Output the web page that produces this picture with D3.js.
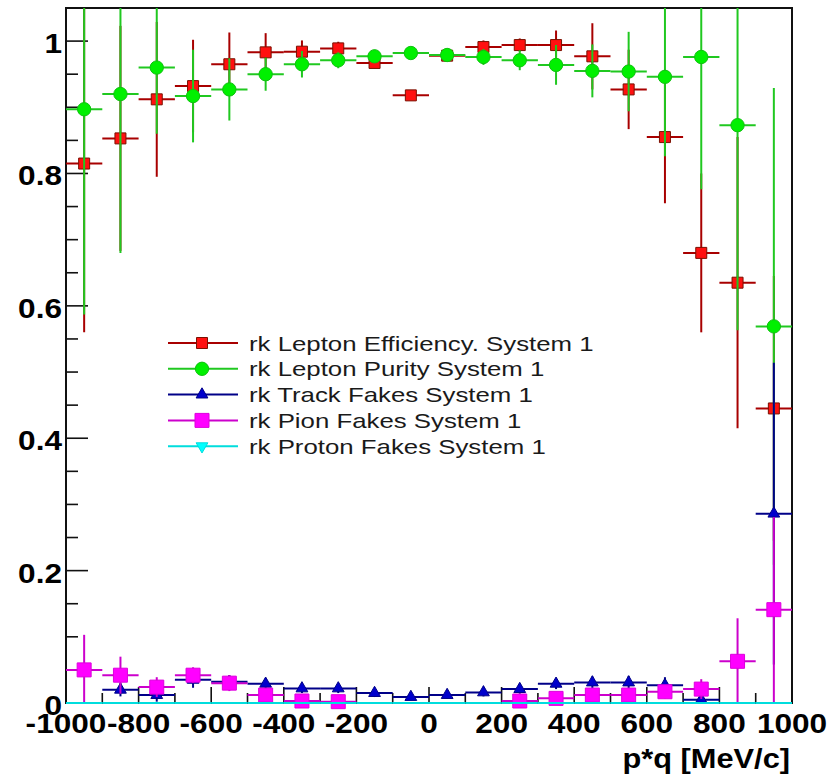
<!DOCTYPE html>
<html>
<head>
<meta charset="utf-8">
<script src="https://cdn.jsdelivr.net/npm/d3@7/dist/d3.min.js"></script>
<style>
  body { margin: 0; background: #ffffff; }
  svg { display: block; }
  text { font-family: "Liberation Sans", Arial, Helvetica, sans-serif; }
</style>
</head>
<body>
<script>
// bins of p*q, 100 MeV/c wide
var binCenters = [-950, -850, -750, -650, -550, -450, -350, -250, -150, -50,
                  50, 150, 250, 350, 450, 550, 650, 750, 850, 950];
var binHalf = 50;

var effVal = [0.815, 0.853, 0.912, 0.932, 0.965, 0.983, 0.984, 0.989, 0.967, 0.918,
              0.978, 0.991, 0.994, 0.994, 0.977, 0.927, 0.855, 0.680, 0.635, 0.445];
var effErr = [0.255, 0.170, 0.117, 0.070, 0.048, 0.029, 0.017, 0.010, 0.008, 0.006,
              0.008, 0.010, 0.010, 0.022, 0.050, 0.060, 0.100, 0.120, 0.220, 0.200];

var purVal = [0.897, 0.920, 0.960, 0.917, 0.927, 0.950, 0.965, 0.971, 0.977, 0.982,
              0.979, 0.976, 0.971, 0.964, 0.955, 0.954, 0.946, 0.976, 0.873, 0.569];
var purErr = [0.310, 0.240, 0.100, 0.070, 0.047, 0.025, 0.020, 0.012, 0.010, 0.008,
              0.010, 0.012, 0.015, 0.030, 0.040, 0.060, 0.120, 0.200, 0.310, 0.360];

var trkVal = [null, 0.020, 0.012, 0.035, 0.032, 0.029, 0.022, 0.022, 0.015, 0.009,
              0.012, 0.016, 0.021, 0.029, 0.031, 0.031, 0.027, 0.005, null, 0.286];
var trkErr = [null, 0.010, 0.010, 0.012, 0.010, 0.008, 0.007, 0.007, 0.006, 0.005,
              0.005, 0.006, 0.007, 0.008, 0.009, 0.010, 0.012, 0.010, null, 0.228];

var pionVal = [0.050, 0.042, 0.024, 0.042, 0.030, 0.012, 0.003, 0.002, null, null,
               null, null, 0.003, 0.007, 0.012, 0.012, 0.017, 0.021, 0.063, 0.141];
var pionErr = [0.053, 0.028, 0.015, 0.012, 0.012, 0.008, 0.006, 0.006, null, null,
               null, null, 0.006, 0.006, 0.008, 0.008, 0.010, 0.015, 0.065, 0.140];

var protVal = [0, 0, 0, 0, 0, 0, 0, 0, 0, 0, 0, 0, 0, 0, 0, 0, 0, 0, 0, 0];
var protErr = [0, 0, 0, 0, 0, 0, 0, 0, 0, 0, 0, 0, 0, 0, 0, 0, 0, 0, 0, 0];

var legendLabels = ["rk Lepton Efficiency. System 1", "rk Lepton Purity System 1",
                    "rk Track Fakes System 1", "rk Pion Fakes System 1", "rk Proton Fakes System 1"];

var xTickVals = [-1000, -800, -600, -400, -200, 0, 200, 400, 600, 800, 1000];
var yTickVals = [0, 0.2, 0.4, 0.6, 0.8, 1];
var xTitle = "p*q [MeV/c]";

// Viz space
var W = 840, H = 776;
var margin = {top: 8, right: 48, bottom: 73, left: 66},
    width = W - margin.left - margin.right,
    height = H - margin.top - margin.bottom;

var svg = d3.select("body").append("svg")
    .attr("width", W)
    .attr("height", H);

var x = d3.scaleLinear().domain([-1000, 1000]).range([margin.left, margin.left + width]);
var y = d3.scaleLinear().domain([0, 1.05]).range([margin.top + height, margin.top]);

svg.append("defs").append("clipPath").attr("id", "plotclip")
  .append("rect")
    .attr("x", margin.left).attr("y", margin.top)
    .attr("width", width).attr("height", height + 2);

// stretched text (reference glyphs are wider than Helvetica)
function sText(x0, y0, str, opt) {
  var g = svg.append("g")
      .attr("transform", "translate(" + x0 + "," + y0 + ") scale(" + opt.sx + ",1)");
  g.append("text")
    .attr("text-anchor", opt.anchor || "start")
    .attr("font-size", opt.size)
    .attr("font-weight", opt.weight || "normal")
    .attr("fill", opt.fill || "#000")
    .text(str);
  return g;
}

// frame
svg.append("rect")
  .attr("x", margin.left).attr("y", margin.top)
  .attr("width", width).attr("height", height)
  .attr("fill", "none").attr("stroke", "#111").attr("stroke-width", 2);

// y ticks: major every 0.2, minor every 0.05
var yMinor = d3.range(0, 1.0501, 0.05);
svg.selectAll(".ytick").data(yMinor).enter().append("line")
  .attr("x1", margin.left)
  .attr("x2", function(d) {
    var major = Math.abs(d * 5 - Math.round(d * 5)) < 1e-6;
    return margin.left + (major ? 22 : 12);
  })
  .attr("y1", function(d) { return y(d); })
  .attr("y2", function(d) { return y(d); })
  .attr("stroke", "#111").attr("stroke-width", 1.6);

// x ticks: every 100
var xMinor = d3.range(-1000, 1001, 100);
svg.selectAll(".xtick").data(xMinor).enter().append("line")
  .attr("x1", function(d) { return x(d); })
  .attr("x2", function(d) { return x(d); })
  .attr("y1", y(0))
  .attr("y2", function(d) { return y(0) - (d % 200 === 0 ? 16 : 10); })
  .attr("stroke", "#111").attr("stroke-width", 1.6);

// tick labels
yTickVals.forEach(function(v) {
  sText(62, y(v) + 12, v === 0 || v === 1 ? String(v) : v.toFixed(1),
        {sx: 1.17, size: 27, weight: "bold", anchor: "end"});
});
xTickVals.forEach(function(v) {
  sText(x(v), 733, String(v), {sx: 1.17, size: 27, weight: "bold", anchor: "middle"});
});
sText(790, 768, xTitle, {sx: 1.14, size: 27, weight: "bold", anchor: "end"});

// series
var series = [
  {vals: effVal, errs: effErr, line: "#a80000", fill: "#ff1010", stroke: "#7a1000", shape: d3.symbolSquare, size: 121, rot: 0},
  {vals: purVal, errs: purErr, line: "#20c820", fill: "#00f000", stroke: "#10c010", shape: d3.symbolCircle, size: 140, rot: 0},
  {vals: trkVal, errs: trkErr, line: "#000088", fill: "#0000cc", stroke: "#000088", shape: d3.symbolTriangle, size: 60, rot: 0},
  {vals: pionVal, errs: pionErr, line: "#cc00cc", fill: "#ff00ff", stroke: "#dd00dd", shape: d3.symbolSquare, size: 196, rot: 0},
  {vals: protVal, errs: protErr, line: "#00dddd", fill: "#00ffff", stroke: "#00dddd", shape: d3.symbolTriangle, size: 60, rot: 180}
];

series.forEach(function(s, si) {
  var pts = binCenters.map(function(c, i) {
    return {c: c, v: s.vals[i], e: s.errs[i]};
  }).filter(function(d) { return d.v !== null; });

  var g = svg.append("g").attr("clip-path", "url(#plotclip)");
  g.selectAll(".hbar").data(pts).enter().append("line")
    .attr("x1", function(d) { return x(d.c - binHalf); })
    .attr("x2", function(d) { return x(d.c + binHalf); })
    .attr("y1", function(d) { return y(d.v); })
    .attr("y2", function(d) { return y(d.v); })
    .attr("stroke", s.line).attr("stroke-width", 2);
  g.selectAll(".vbar").data(pts.filter(function(d) { return d.e > 0; })).enter().append("line")
    .attr("x1", function(d) { return x(d.c); })
    .attr("x2", function(d) { return x(d.c); })
    .attr("y1", function(d) { return y(Math.max(0, d.v - d.e)); })
    .attr("y2", function(d) { return y(d.v + d.e); })
    .attr("stroke", s.line).attr("stroke-width", 2);

  // proton fakes all sit on zero: markers not shown in reference
  if (si === 4) return;
  svg.append("g").selectAll("path").data(pts).enter().append("path")
    .attr("d", d3.symbol().type(s.shape).size(s.size))
    .attr("transform", function(d) {
      return "translate(" + x(d.c) + "," + y(d.v) + ") rotate(" + s.rot + ")";
    })
    .attr("fill", s.fill).attr("stroke", s.stroke).attr("stroke-width", 1);
});

// legend
var legY0 = 343, legDy = 25.8;
series.forEach(function(s, i) {
  var ly = legY0 + i * legDy;
  svg.append("line")
    .attr("x1", 168).attr("x2", 238).attr("y1", ly).attr("y2", ly)
    .attr("stroke", s.line).attr("stroke-width", 2);
  svg.append("path")
    .attr("d", d3.symbol().type(s.shape).size(s.size))
    .attr("transform", "translate(202," + ly + ") rotate(" + s.rot + ")")
    .attr("fill", s.fill).attr("stroke", s.stroke).attr("stroke-width", 1);
  sText(249, ly + 7.5, legendLabels[i], {sx: 1.29, size: 20, fill: "#1a1a1a"});
});
</script>
</body>
</html>
